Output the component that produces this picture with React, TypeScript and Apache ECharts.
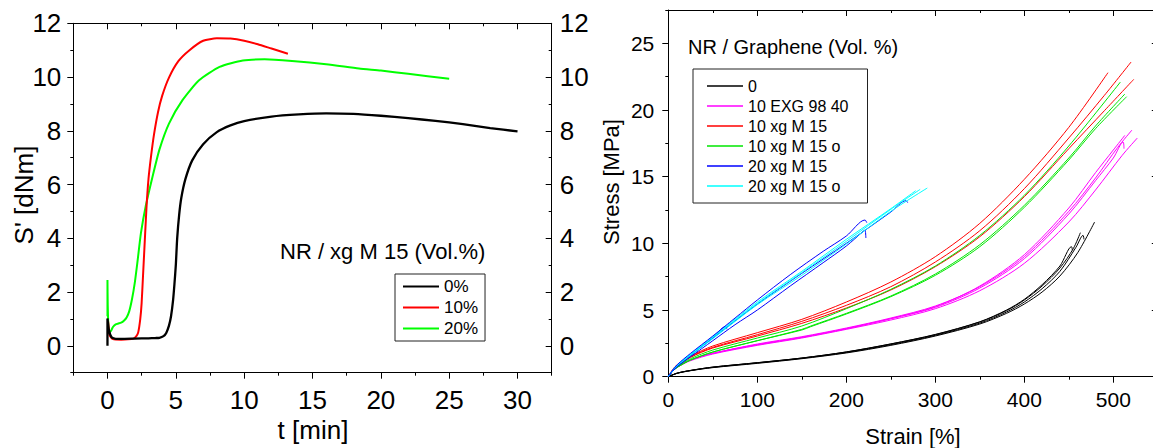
import React, { useEffect, useRef } from 'react';
import * as echarts from 'echarts';

const FONT = "'Liberation Sans', Arial, Helvetica, sans-serif";

// ---------- Left panel: S' [dNm] vs t [min] ----------
const leftNames = ['0%', '10%', '20%'];
const leftColors = ['#000000', '#ff0000', '#00ff00'];

const cure0: number[][] = [
  [0, 0], [0, 1.02], [0.1, 0.6], [0.3, 0.32], [0.6, 0.26], [1, 0.26], [2, 0.27], [3, 0.28], [3.5, 0.29],
  [3.8, 0.3], [4.1, 0.36], [4.3, 0.48], [4.5, 0.75], [4.65, 1.1], [4.8, 1.7], [4.9, 2.3], [5.0, 3.0],
  [5.1, 4.0], [5.25, 4.9], [5.4, 5.5], [5.7, 6.2], [6.2, 6.9], [7, 7.5], [8, 7.95], [9, 8.2], [10, 8.36],
  [12, 8.53], [14, 8.61], [16, 8.65], [18, 8.63], [20, 8.56], [22, 8.47], [24, 8.37], [26, 8.25],
  [28, 8.1], [30, 7.98],
];
const cure10: number[][] = [
  [0.05, 0.9], [0.15, 0.4], [0.4, 0.25], [1, 0.23], [1.5, 0.24], [1.9, 0.27], [2.1, 0.35], [2.25, 0.5],
  [2.4, 1.0], [2.5, 1.6], [2.6, 2.6], [2.7, 3.6], [2.85, 5.1], [3.0, 6.2], [3.2, 7.1], [3.4, 7.85],
  [3.7, 8.7], [4.0, 9.3], [4.5, 9.98], [5.2, 10.6], [6, 11.0], [7, 11.35], [8, 11.44], [9, 11.43],
  [10, 11.35], [11, 11.22], [12, 11.06], [13.2, 10.87],
];
const cure20: number[][] = [
  [0, 1.1], [0, 2.45], [0.02, 1.5], [0.08, 0.6], [0.15, 0.5], [0.25, 0.55], [0.4, 0.7], [0.6, 0.8],
  [0.8, 0.83], [1.0, 0.86], [1.2, 0.93], [1.4, 1.05], [1.6, 1.3], [1.8, 1.75], [2.0, 2.35], [2.2, 3.15],
  [2.45, 4.2], [2.8, 5.2], [3.3, 6.3], [3.8, 7.3], [4.5, 8.27], [5.5, 9.15], [6.7, 9.88], [8.2, 10.38],
  [9.9, 10.62], [11.5, 10.66], [13.5, 10.6], [16, 10.48], [18.4, 10.32], [20, 10.24], [22, 10.12], [25, 9.94],
];

const leftXMajor = [0, 5, 10, 15, 20, 25, 30];
const leftXMinor = [-2.5, 2.5, 7.5, 12.5, 17.5, 22.5, 27.5, 32.5];
const leftYMajor = [0, 2, 4, 6, 8, 10, 12];
const leftYMinor = [-1, 1, 3, 5, 7, 9, 11];

// ---------- Right panel: Stress [MPa] vs Strain [%] ----------
const rightNames = ['0', '10 EXG 98 40', '10 xg M 15', '10 xg M 15 o', '20 xg M 15', '20 xg M 15 o'];
const rightColors = ['#000000', '#ff00ff', '#ff0000', '#00e600', '#0000ff', '#00ffff'];

const ref0a: number[][] = [[0, 0], [10, 0.25], [25, 0.45], [50, 0.68], [100, 1.0], [150, 1.35], [200, 1.78], [250, 2.35], [300, 3.05], [350, 3.95], [380, 4.75], [400, 5.45], [420, 6.35], [440, 7.55], [460, 9.3], [479, 11.6]];
const ref0b: number[][] = [[0, 0], [10, 0.27], [25, 0.47], [50, 0.72], [100, 1.05], [150, 1.4], [200, 1.85], [250, 2.45], [300, 3.15], [350, 4.1], [380, 4.95], [400, 5.75], [420, 6.8], [440, 8.15], [455, 9.6], [463, 10.8]];
const ref0c: number[][] = [[0, 0], [10, 0.26], [25, 0.46], [50, 0.7], [100, 1.03], [150, 1.38], [200, 1.82], [250, 2.4], [300, 3.1], [350, 4.02], [380, 4.85], [400, 5.6], [420, 6.6], [440, 7.9], [458, 9.7], [466, 10.6], [467, 10.3]];
const ref0d: number[][] = [[0, 0], [10, 0.27], [25, 0.47], [50, 0.72], [100, 1.05], [150, 1.4], [200, 1.86], [250, 2.46], [300, 3.17], [350, 4.12], [380, 5.0], [400, 5.8], [420, 6.9], [440, 8.3], [453, 9.75], [454, 9.5]];

const exgA: number[][] = [[0, 0], [5, 0.45], [10, 0.75], [25, 1.25], [50, 1.75], [100, 2.45], [150, 3.0], [200, 3.65], [250, 4.4], [300, 5.3], [350, 6.75], [400, 9.0], [450, 12.4], [480, 14.9], [505, 17.2], [521, 18.5]];
const exgB: number[][] = [[0, 0], [5, 0.45], [10, 0.75], [25, 1.25], [50, 1.75], [100, 2.4], [150, 2.95], [200, 3.6], [250, 4.35], [300, 5.25], [350, 6.8], [400, 9.15], [450, 12.65], [480, 15.3], [500, 17.0], [513, 18.1]];
const exgC: number[][] = [[0, 0], [5, 0.42], [10, 0.7], [25, 1.2], [50, 1.7], [100, 2.35], [150, 2.9], [200, 3.55], [250, 4.25], [300, 5.1], [350, 6.45], [400, 8.5], [450, 11.6], [480, 14.0], [510, 16.6], [527, 17.9]];
const exgD: number[][] = [[0, 0], [5, 0.45], [10, 0.75], [25, 1.25], [50, 1.75], [100, 2.4], [150, 2.95], [200, 3.6], [250, 4.35], [300, 5.2], [350, 6.65], [400, 8.85], [450, 12.2], [480, 14.7], [500, 16.4], [511, 17.6], [512, 17.1]];

const xg10A: number[][] = [[0, 0], [5, 0.55], [10, 0.9], [25, 1.55], [50, 2.3], [100, 3.3], [150, 4.3], [200, 5.6], [250, 7.1], [300, 9.0], [350, 11.5], [400, 14.8], [450, 18.7], [494, 22.8]];
const xg10B: number[][] = [[0, 0], [5, 0.5], [10, 0.85], [25, 1.5], [50, 2.2], [100, 3.15], [150, 4.15], [200, 5.35], [250, 6.75], [300, 8.6], [350, 10.95], [400, 14.1], [450, 17.9], [490, 21.1], [520, 23.6]];
const xg10C: number[][] = [[0, 0], [5, 0.5], [10, 0.8], [25, 1.45], [50, 2.15], [100, 3.05], [150, 4.0], [200, 5.15], [250, 6.5], [300, 8.25], [350, 10.5], [400, 13.5], [450, 17.1], [490, 19.95], [523, 22.3]];

const xg10oA: number[][] = [[0, 0], [5, 0.45], [10, 0.75], [25, 1.35], [50, 2.0], [100, 2.9], [150, 3.8], [200, 5.1], [250, 6.55], [300, 8.3], [350, 10.6], [400, 13.6], [450, 17.3], [508, 22.1]];
const xg10oB: number[][] = [[0, 0], [5, 0.42], [10, 0.7], [25, 1.25], [50, 1.85], [100, 2.7], [150, 3.55], [160, 3.8], [200, 4.75], [250, 6.05], [300, 7.7], [350, 9.9], [400, 12.85], [450, 16.4], [480, 18.8], [513, 21.2]];
const xg10oC: number[][] = [[0, 0], [5, 0.42], [10, 0.7], [25, 1.25], [50, 1.85], [100, 2.7], [150, 3.5], [160, 3.75], [200, 4.7], [250, 6.0], [300, 7.6], [350, 9.75], [400, 12.7], [450, 16.25], [480, 18.6], [515, 21.0]];

const xg20A: number[][] = [[0, 0], [5, 0.5], [10, 0.9], [25, 1.75], [50, 3.05], [75, 4.4], [100, 5.75], [137, 7.65], [174, 9.4], [200, 10.55], [221, 11.75], [223, 11.55]];
const xg20B: number[][] = [[0, 0], [5, 0.42], [10, 0.75], [25, 1.5], [50, 2.7], [75, 3.9], [100, 5.0], [137, 6.8], [174, 8.55], [200, 9.8], [219, 10.9], [221, 11.0], [222, 10.4]];
const xg20C: number[][] = [[0, 0], [5, 0.45], [10, 0.8], [25, 1.6], [50, 2.9], [64, 3.75], [66, 3.55]];
const xg20D: number[][] = [[0, 0], [5, 0.45], [10, 0.8], [25, 1.6], [50, 2.9], [100, 5.45], [150, 7.75], [200, 10.0], [250, 12.35], [267, 13.2], [269, 13.05]];

const xg20oA: number[][] = [[0, 0], [5, 0.48], [10, 0.85], [25, 1.65], [50, 2.95], [100, 5.5], [150, 7.8], [200, 10.15], [250, 12.55], [283, 14.05]];
const xg20oB: number[][] = [[0, 0], [5, 0.47], [10, 0.83], [25, 1.6], [50, 2.85], [100, 5.4], [150, 7.6], [200, 9.95], [250, 12.4], [291, 14.15]];
const xg20oC: number[][] = [[0, 0], [5, 0.5], [10, 0.88], [25, 1.7], [50, 3.0], [100, 5.6], [150, 7.9], [200, 10.3], [250, 12.6], [278, 13.95]];

const rightGroups: number[][][][] = [
  [ref0a, ref0b, ref0c, ref0d],
  [exgA, exgB, exgC, exgD],
  [xg10A, xg10B, xg10C],
  [xg10oA, xg10oB, xg10oC],
  [xg20D, xg20B, xg20C],
  [xg20oA, xg20oB, xg20oC],
];
// the upper blue replicate is drawn above the cyan ones
const topBlue: number[][][] = [xg20A];

const rightXMajor = [0, 100, 200, 300, 400, 500];
const rightXMinor = [50, 150, 250, 350, 450, 550];
const rightYMajor = [0, 5, 10, 15, 20, 25];
const rightYMinor = [2.5, 7.5, 12.5, 17.5, 22.5, 27.5];

function mkAxis(o: {
  grid: number; position: string; min: number; max: number; ticks: number[];
  inside: boolean; length: number; line: boolean; labels: boolean; fontSize?: number; margin?: number;
}) {
  return {
    type: 'value',
    gridIndex: o.grid,
    position: o.position,
    min: o.min,
    max: o.max,
    scale: true,
    axisLine: { show: o.line, onZero: false, lineStyle: { color: '#000', width: 1 } },
    axisTick: { show: true, inside: o.inside, length: o.length, customValues: o.ticks, lineStyle: { color: '#000', width: 1 } },
    axisLabel: {
      show: o.labels,
      customValues: o.ticks,
      fontSize: o.fontSize || 12,
      margin: o.margin || 8,
      color: '#000',
      fontFamily: FONT,
      hideOverlap: false,
    },
    minorTick: { show: false },
    splitLine: { show: false },
    silent: true,
  };
}

export default function App() {
  const ref = useRef<HTMLDivElement>(null);
  useEffect(() => {
    if (!ref.current) return;
    const chart = echarts.init(ref.current, null, { renderer: 'svg' });

    const LG = { left: 73.3, top: 23.3, width: 478.4, height: 349.4 };
    const RG = { left: 668.3, top: 10, width: 489.5, height: 366.7 };

    const xAxis = [
      mkAxis({ grid: 0, position: 'bottom', min: -2.5, max: 32.5, ticks: leftXMajor, inside: false, length: 6, line: true, labels: true, fontSize: 26, margin: 14 }),
      mkAxis({ grid: 0, position: 'bottom', min: -2.5, max: 32.5, ticks: leftXMinor, inside: false, length: 3, line: false, labels: false }),
      mkAxis({ grid: 0, position: 'top', min: -2.5, max: 32.5, ticks: leftXMajor, inside: true, length: 6, line: true, labels: false }),
      mkAxis({ grid: 0, position: 'top', min: -2.5, max: 32.5, ticks: leftXMinor, inside: true, length: 3, line: false, labels: false }),
      mkAxis({ grid: 1, position: 'bottom', min: 0, max: 550, ticks: rightXMajor, inside: false, length: 6, line: true, labels: true, fontSize: 21, margin: 12 }),
      mkAxis({ grid: 1, position: 'bottom', min: 0, max: 550, ticks: rightXMinor, inside: false, length: 3, line: false, labels: false }),
      mkAxis({ grid: 1, position: 'top', min: 0, max: 550, ticks: rightXMajor, inside: true, length: 6, line: true, labels: false }),
      mkAxis({ grid: 1, position: 'top', min: 0, max: 550, ticks: rightXMinor, inside: true, length: 3, line: false, labels: false }),
    ];
    const yAxis = [
      mkAxis({ grid: 0, position: 'left', min: -1, max: 12, ticks: leftYMajor, inside: false, length: 6, line: true, labels: true, fontSize: 26, margin: 12 }),
      mkAxis({ grid: 0, position: 'left', min: -1, max: 12, ticks: leftYMinor, inside: false, length: 3, line: false, labels: false }),
      mkAxis({ grid: 0, position: 'right', min: -1, max: 12, ticks: leftYMajor, inside: true, length: 6, line: true, labels: true, fontSize: 26, margin: 8 }),
      mkAxis({ grid: 0, position: 'right', min: -1, max: 12, ticks: leftYMinor, inside: true, length: 3, line: false, labels: false }),
      mkAxis({ grid: 1, position: 'left', min: 0, max: 27.5, ticks: rightYMajor, inside: false, length: 6, line: true, labels: true, fontSize: 21, margin: 14 }),
      mkAxis({ grid: 1, position: 'left', min: 0, max: 27.5, ticks: rightYMinor, inside: false, length: 3, line: false, labels: false }),
      mkAxis({ grid: 1, position: 'right', min: 0, max: 27.5, ticks: rightYMajor, inside: true, length: 6, line: true, labels: false }),
      mkAxis({ grid: 1, position: 'right', min: 0, max: 27.5, ticks: rightYMinor, inside: true, length: 3, line: false, labels: false }),
    ];

    const leftData = [cure0, cure10, cure20];
    const series: any[] = [];
    // draw green, red, black so black is on top
    [2, 1, 0].forEach((i) => {
      series.push({
        type: 'line',
        name: leftNames[i],
        xAxisIndex: 0,
        yAxisIndex: 0,
        data: leftData[i],
        showSymbol: false,
        symbol: 'none',
        smooth: 0.2,
        lineStyle: { color: leftColors[i], width: i === 0 ? 2.3 : 2 },
        itemStyle: { color: leftColors[i] },
        silent: true,
        z: 3 + (2 - i),
      });
    });
    const pushRight = (c: number[][], g: number) => {
      series.push({
        type: 'line',
        name: rightNames[g],
        xAxisIndex: 4,
        yAxisIndex: 4,
        data: c,
        showSymbol: false,
        symbol: 'none',
        smooth: 0.3,
        lineStyle: { color: rightColors[g], width: 1 },
        itemStyle: { color: rightColors[g] },
        silent: true,
      });
    };
    rightGroups.forEach((curves, g) => curves.forEach((c) => pushRight(c, g)));
    topBlue.forEach((c) => pushRight(c, 4));

    const txt = (text: string, x: number, y: number, size: number, align = 'center', rot = 0) => ({
      type: 'text',
      x,
      y,
      rotation: rot,
      silent: true,
      style: { text, fontSize: size, fontFamily: FONT, fill: '#000', align, verticalAlign: 'middle' },
    });

    chart.setOption({
      animation: false,
      backgroundColor: '#ffffff',
      textStyle: { fontFamily: FONT },
      grid: [
        { ...LG, containLabel: false, outerBoundsMode: 'none' },
        { ...RG, containLabel: false, outerBoundsMode: 'none' },
      ],
      xAxis,
      yAxis,
      legend: [
        {
          data: leftNames,
          orient: 'vertical',
          left: 395,
          top: 274,
          padding: [4, 7, 4, 8],
          itemGap: 4,
          itemWidth: 36,
          itemHeight: 2,
          icon: 'rect',
          borderColor: '#222',
          borderWidth: 1,
          backgroundColor: '#fff',
          selectedMode: false,
          textStyle: { fontSize: 17, color: '#000', fontFamily: FONT },
        },
        {
          data: rightNames,
          orient: 'vertical',
          left: 693,
          top: 69,
          padding: [9, 19, 9, 14],
          itemGap: 4,
          itemWidth: 36,
          itemHeight: 1.5,
          icon: 'rect',
          borderColor: '#222',
          borderWidth: 1,
          backgroundColor: '#fff',
          selectedMode: false,
          textStyle: { fontSize: 16, color: '#000', fontFamily: FONT },
        },
      ],
      graphic: [
        txt('t [min]', 313, 430, 26),
        txt("S' [dNm]", 24, 195, 26, 'center', Math.PI / 2),
        txt('NR / xg M 15 (Vol.%)', 280, 251, 22, 'left'),
        txt('Strain [%]', 913, 436, 22),
        txt('Stress [MPa]', 611, 182, 22, 'center', Math.PI / 2),
        txt('NR / Graphene (Vol. %)', 688, 47, 20, 'left'),
      ],
      series,
    });
    return () => chart.dispose();
  }, []);
  return <div ref={ref} style={{ position: 'absolute', left: 0, top: 0, width: 1153, height: 448 }} />;
}
